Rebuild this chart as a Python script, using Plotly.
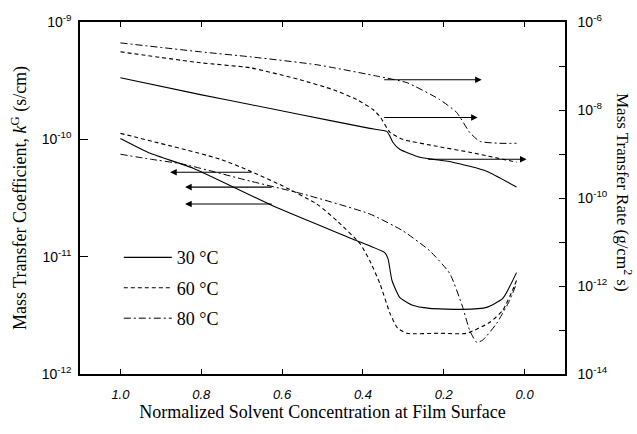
import plotly.graph_objects as go

# ---------------- data ----------------
temps = ["30 °C", "60 °C", "80 °C"]

# Mass transfer rate (right axis, g/cm^2 s) -- log10 values
x_rate_30 = [1.0, 0.802, 0.679, 0.556, 0.383, 0.341, 0.333, 0.326, 0.309, 0.259, 0.178, 0.094, 0.020]
logr_30 = [-7.266, -7.650, -7.876, -8.102, -8.418, -8.486, -8.599, -8.734, -8.893, -9.073, -9.186, -9.390, -9.751]

x_rate_60 = [1.0, 0.802, 0.679, 0.556, 0.474, 0.415, 0.375, 0.358, 0.333, 0.301, 0.217, 0.136, 0.020]
logr_60 = [-6.678, -6.927, -7.040, -7.311, -7.537, -7.763, -7.989, -8.147, -8.508, -8.667, -8.825, -8.960, -9.186]

x_rate_80 = [1.0, 0.802, 0.679, 0.514, 0.358, 0.291, 0.210, 0.168, 0.136, 0.111, 0.062, 0.020]
logr_80 = [-6.475, -6.678, -6.791, -6.972, -7.243, -7.379, -7.763, -8.056, -8.508, -8.712, -8.757, -8.757]

# Mass transfer coefficient (left axis, s/cm) -- log10 values
x_coef_30 = [1.0, 0.926, 0.820, 0.622, 0.415, 0.346, 0.338, 0.328, 0.309, 0.277, 0.235, 0.153, 0.094, 0.054, 0.020]
logk_30 = [-9.992, -10.119, -10.246, -10.568, -10.864, -10.966, -11.017, -11.203, -11.347, -11.415, -11.441, -11.449, -11.432, -11.356, -11.136]

x_coef_60 = [1.0, 0.753, 0.679, 0.598, 0.514, 0.464, 0.407, 0.383, 0.358, 0.333, 0.314, 0.291, 0.210, 0.143, 0.086, 0.054, 0.030, 0.020]
logk_60 = [-9.949, -10.169, -10.271, -10.398, -10.551, -10.695, -10.890, -11.034, -11.229, -11.483, -11.610, -11.653, -11.653, -11.653, -11.559, -11.458, -11.288, -11.203]

x_coef_80 = [1.0, 0.926, 0.844, 0.679, 0.548, 0.383, 0.301, 0.235, 0.185, 0.153, 0.136, 0.119, 0.104, 0.069, 0.037, 0.020]
logk_80 = [-10.127, -10.169, -10.212, -10.356, -10.466, -10.636, -10.780, -10.949, -11.144, -11.432, -11.627, -11.729, -11.712, -11.568, -11.373, -11.229]

# axis ticks
x_ticks = [1.0, 0.8, 0.6, 0.4, 0.2, 0.0]
x_ticklabels = ["1.0", "0.8", "0.6", "0.4", "0.2", "0.0"]
left_exps = [-12, -11, -10, -9]
right_exps = [-14, -13, -12, -11, -10, -9, -8, -7, -6]

# arrows: (tail x, head x, log10 y)
arrows_right = [(0.351, 0.106, -7.311), (0.351, 0.116, -8.169), (0.242, -0.005, -9.119)]
arrows_left = [(0.672, 0.877, -10.280), (0.622, 0.840, -10.407), (0.622, 0.840, -10.551)]

# ---------------- figure ----------------
dash_styles = ["solid", "4px,3px", "7px,3px,2px,3px"]
line_w = [1.1, 1.1, 1.0]

fig = go.Figure()
coef_sets = [(x_coef_30, logk_30), (x_coef_60, logk_60), (x_coef_80, logk_80)]
rate_sets = [(x_rate_30, logr_30), (x_rate_60, logr_60), (x_rate_80, logr_80)]

for i, t in enumerate(temps):
    xs, ls = coef_sets[i]
    fig.add_trace(go.Scatter(
        x=xs, y=[10 ** v for v in ls], mode="lines", name=t,
        legendgroup=t, showlegend=True,
        line=dict(color="black", width=line_w[i], dash=dash_styles[i],
                  shape="spline", smoothing=0.5),
        yaxis="y"))
for i, t in enumerate(temps):
    xs, ls = rate_sets[i]
    fig.add_trace(go.Scatter(
        x=xs, y=[10 ** v for v in ls], mode="lines", name=t,
        legendgroup=t, showlegend=False,
        line=dict(color="black", width=line_w[i], dash=dash_styles[i],
                  shape="spline", smoothing=0.5),
        yaxis="y2"))

annotations = []
for tail, head, ly in arrows_right:
    annotations.append(dict(x=head, y=ly, ax=tail, ay=ly, xref="x", yref="y2",
                            axref="x", ayref="y2", showarrow=True, arrowhead=2,
                            standoff=0, startstandoff=0,
                            arrowsize=1.2, arrowwidth=1.1, arrowcolor="black", text=""))
for tail, head, ly in arrows_left:
    annotations.append(dict(x=head, y=ly, ax=tail, ay=ly, xref="x", yref="y",
                            axref="x", ayref="y", showarrow=True, arrowhead=2,
                            standoff=0, startstandoff=0,
                            arrowsize=1.2, arrowwidth=1.1, arrowcolor="black", text=""))

annotations.append(dict(text="Mass Transfer Rate (g/cm<sup>2</sup> s)", textangle=90,
                        xref="paper", yref="paper", x=1.0, y=0.5, xshift=59, yshift=6,
                        xanchor="center", yanchor="middle", showarrow=False,
                        font=dict(family="Liberation Serif", size=17, color="black")))

def pow_labels(exps, every=1):
    out = []
    for e in exps:
        if (e % every) == 0:
            out.append("10<sup>%d</sup>" % e)
        else:
            out.append("")
    return out

fig.update_layout(
    width=637, height=434,
    margin=dict(l=80, r=72, t=20, b=60),
    paper_bgcolor="white", plot_bgcolor="white",
    showlegend=True,
    legend=dict(x=0.08, y=0.383, xanchor="left", yanchor="top",
                bgcolor="rgba(0,0,0,0)", traceorder="grouped", tracegroupgap=4,
                itemwidth=48,
                font=dict(family="Liberation Serif", size=18, color="black")),
    annotations=annotations,
    xaxis=dict(range=[1.1, -0.1], tickvals=x_ticks, ticktext=x_ticklabels,
               ticks="inside", ticklen=5, tickwidth=1, tickcolor="black",
               showline=True, linecolor="black", linewidth=1.5, mirror="ticks",
               showgrid=False, zeroline=False, ticklabelstandoff=8,
               tickfont=dict(family="Liberation Sans", size=13, color="black", style="italic"),
               title=dict(text="Normalized Solvent Concentration at Film Surface",
                          font=dict(family="Liberation Serif", size=18, color="black"),
                          standoff=3)),
    yaxis=dict(type="log", range=[-12, -9],
               tickvals=[10 ** e for e in left_exps], ticktext=pow_labels(left_exps),
               ticks="inside", ticklen=8, tickwidth=1, tickcolor="black",
               showline=True, linecolor="black", linewidth=1.5, mirror=False,
               showgrid=False, zeroline=False, ticklabelstandoff=4,
               tickfont=dict(family="Liberation Sans", size=14, color="black"),
               title=dict(text="Mass Transfer Coefficient, <i>k</i><sup>G</sup> (s/cm)",
                          font=dict(family="Liberation Serif", size=18, color="black"),
                          standoff=10)),
    yaxis2=dict(type="log", range=[-14, -6], overlaying="y", side="right",
                tickvals=[10 ** e for e in right_exps], ticktext=pow_labels(right_exps, 2),
                ticks="inside", ticklen=6, tickwidth=1, tickcolor="black",
                showline=True, linecolor="black", linewidth=1.5,
                showgrid=False, zeroline=False, ticklabelstandoff=8,
                tickfont=dict(family="Liberation Sans", size=14, color="black")),
)

fig.write_html("out.html")
